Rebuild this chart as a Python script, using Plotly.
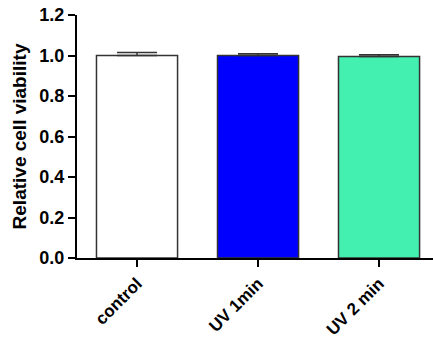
import plotly.graph_objects as go

categories = ["control", "UV 1min", "UV 2 min"]
values = [1.0, 1.0, 0.995]
errors = [0.015, 0.009, 0.009]
colors = ["#FFFFFF", "#0000FF", "#44F0B0"]
yticks = [0.0, 0.2, 0.4, 0.6, 0.8, 1.0, 1.2]
ytick_labels = ["0.0", "0.2", "0.4", "0.6", "0.8", "1.0", "1.2"]

fig = go.Figure()
fig.add_trace(go.Bar(
    x=categories,
    y=values,
    marker=dict(color=colors, line=dict(color="#333333", width=1.5)),
    width=0.67,
    error_y=dict(type="data", array=errors, symmetric=False, arrayminus=[0, 0, 0],
                 color="#333333", thickness=1.5, width=20),
))

font = "Liberation Sans, Arial, sans-serif"
fig.update_layout(
    width=433, height=341,
    margin=dict(l=77, r=0, t=15, b=83),
    plot_bgcolor="white", paper_bgcolor="white",
    showlegend=False,
    font=dict(family=font, color="black"),
    xaxis=dict(
        range=[-0.496, 2.446],
        showline=True, linecolor="black", linewidth=2,
        ticks="outside", ticklen=7, tickwidth=2, tickcolor="black",
        tickangle=-45,
        tickfont=dict(family=font, size=17, color="black", weight="bold"),
        showgrid=False, zeroline=False,
    ),
    yaxis=dict(
        range=[0, 1.2],
        tickvals=yticks, ticktext=ytick_labels,
        showline=True, linecolor="black", linewidth=2,
        ticks="outside", ticklen=7, tickwidth=2, tickcolor="black",
        tickfont=dict(family=font, size=18, color="black", weight="bold"),
        showgrid=False, zeroline=False,
        title=dict(text="Relative cell viability",
                   font=dict(family=font, size=19, color="black", weight="bold"),
                   standoff=8),
    ),
)

fig.write_html("out.html")
